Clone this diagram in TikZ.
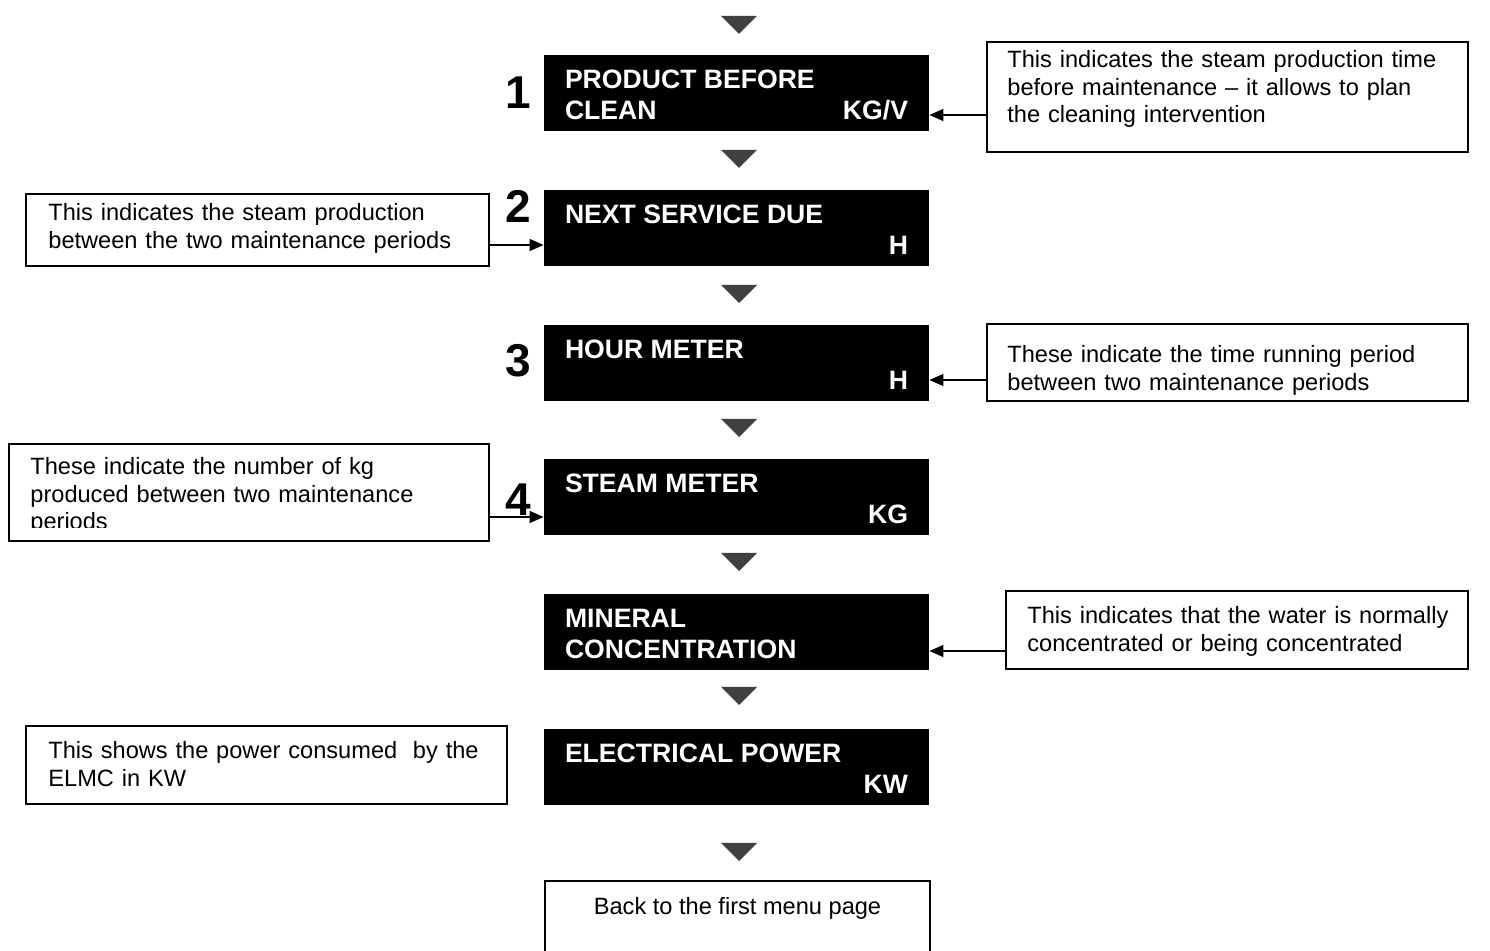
\documentclass[tikz,border=0pt]{standalone}
\usepackage{fontspec}
\setmainfont{Liberation Sans}
\usepackage{tikz}
\usetikzlibrary{positioning,arrows.meta}
\definecolor{mgray}{HTML}{404040}

\begin{document}
\begin{tikzpicture}[x=0.5pt, y=-0.5pt,
  screen/.style={rectangle, fill=black, minimum width=192.5pt, minimum height=38pt, inner sep=0pt},
  menutext/.style={text=white, font=\fontsize{13.3}{15.5}\selectfont\bfseries, inner sep=0pt},
  stepno/.style={font=\fontsize{23}{26}\selectfont\bfseries, inner sep=0pt, anchor=base},
  note/.style={rectangle, draw=black, line width=1pt, inner sep=0pt, anchor=north west},
  notetext/.style={font=\fontsize{11.8}{13.75}\selectfont, align=left, text width=230pt,
    inner sep=0pt, anchor=base west},
  pointer/.style={-{Triangle[length=7pt,width=6pt]}, line width=0.75pt},
  marker/.style={fill=mgray}
]
\useasboundingbox (0,0) rectangle (1490,951);

% menu screens
\node[screen] (b1) at (736.5,93) {};
\node[screen, below=29pt of b1] (b2) {};
\node[screen, below=29pt of b2] (b3) {};
\node[screen, below=29pt of b3] (b4) {};
\node[screen, below=29pt of b4] (b5) {};
\node[screen, below=29pt of b5] (b6) {};
\node[note, minimum width=192.5pt, minimum height=45pt] (back) at (544,880) {};

\node[menutext, anchor=base west] (m1) at ([shift={(10.5pt,-17pt)}]b1.north west) {PRODUCT BEFORE};
\node[menutext, anchor=base west] (m1b) at ([shift={(10.5pt,-32.5pt)}]b1.north west) {CLEAN};
\node[menutext, anchor=base east] (u1) at ([shift={(-10.5pt,-32.5pt)}]b1.north east) {KG/V};
\node[menutext, anchor=base west] (m2) at ([shift={(10.5pt,-17pt)}]b2.north west) {NEXT SERVICE DUE};
\node[menutext, anchor=base east] (u2) at ([shift={(-10.5pt,-32.5pt)}]b2.north east) {H};
\node[menutext, anchor=base west] (m3) at ([shift={(10.5pt,-17pt)}]b3.north west) {HOUR METER};
\node[menutext, anchor=base east] (u3) at ([shift={(-10.5pt,-32.5pt)}]b3.north east) {H};
\node[menutext, anchor=base west] (m4) at ([shift={(10.5pt,-17pt)}]b4.north west) {STEAM METER};
\node[menutext, anchor=base east] (u4) at ([shift={(-10.5pt,-32.5pt)}]b4.north east) {KG};
\node[menutext, anchor=base west] (m5) at ([shift={(10.5pt,-17pt)}]b5.north west) {MINERAL};
\node[menutext, anchor=base west] (m5b) at ([shift={(10.5pt,-32.5pt)}]b5.north west) {CONCENTRATION};
\node[menutext, anchor=base west] (m6) at ([shift={(10.5pt,-17pt)}]b6.north west) {ELECTRICAL POWER};
\node[menutext, anchor=base east] (u6) at ([shift={(-10.5pt,-32.5pt)}]b6.north east) {KW};
\node[font=\fontsize{11.8}{13.75}\selectfont, inner sep=0pt, anchor=base] (backtxt)
  at ([yshift=-17pt]back.north) {Back to the first menu page};

% step numbers
\node[stepno] (s1) at (518,109) {1};
\node[stepno] (s2) at (518,223) {2};
\node[stepno] (s3) at (518,377) {3};
\node[stepno] (s4) at (518,516) {4};

% down markers between screens
\foreach \t in {16,150,285,419,553,687,843}
  \fill[marker] (721,\t) -- (757,\t) -- (739,\t+18) -- cycle;

% explanation boxes
\node[note, minimum width=240.5pt, minimum height=55pt] (a1) at (986,41) {};
\node[notetext] (n1) at ([shift={(10.5pt,-13.5pt)}]a1.north west)
  {This indicates the steam production time\\before maintenance – it allows to plan\\the cleaning intervention};
\node[note, minimum width=231.5pt, minimum height=36pt] (a2) at (25,193) {};
\node[notetext] (n2) at ([shift={(11.5pt,-14pt)}]a2.north west)
  {This indicates the steam production\\between the two maintenance periods};
\node[note, minimum width=240.5pt, minimum height=38.5pt] (a3) at (986,323) {};
\node[notetext] (n3) at ([shift={(10.5pt,-20pt)}]a3.north west)
  {These indicate the time running period\\between two maintenance periods};
\node[note, minimum width=240pt, minimum height=48.5pt] (a4) at (8,443) {};
\begin{scope}
  \clip (a4.north west) rectangle ([yshift=7pt]a4.south east);
  \node[notetext] (n4) at ([shift={(11pt,-16pt)}]a4.north west)
    {These indicate the number of kg\\produced between two maintenance\\periods};
\end{scope}
\node[note, minimum width=231pt, minimum height=39pt] (a5) at (1005,590) {};
\node[notetext] (n5) at ([shift={(11pt,-17pt)}]a5.north west)
  {This indicates that the water is normally\\concentrated or being concentrated};
\node[note, minimum width=240.5pt, minimum height=39pt] (a6) at (25,725) {};
\node[notetext] (n6) at ([shift={(11.5pt,-17pt)}]a6.north west)
  {This shows the power consumed~ by the\\ELMC in KW};

% pointers
\draw[pointer] (a1.west |- 0,115) -- (b1.east |- 0,115);
\draw[pointer] (a2.east |- 0,245) -- (b2.west |- 0,245);
\draw[pointer] (a3.west |- 0,380) -- (b3.east |- 0,380);
\draw[pointer] (a4.east |- 0,517) -- (b4.west |- 0,517);
\draw[pointer] (a5.west |- 0,651) -- (b5.east |- 0,651);
\end{tikzpicture}
\end{document}
